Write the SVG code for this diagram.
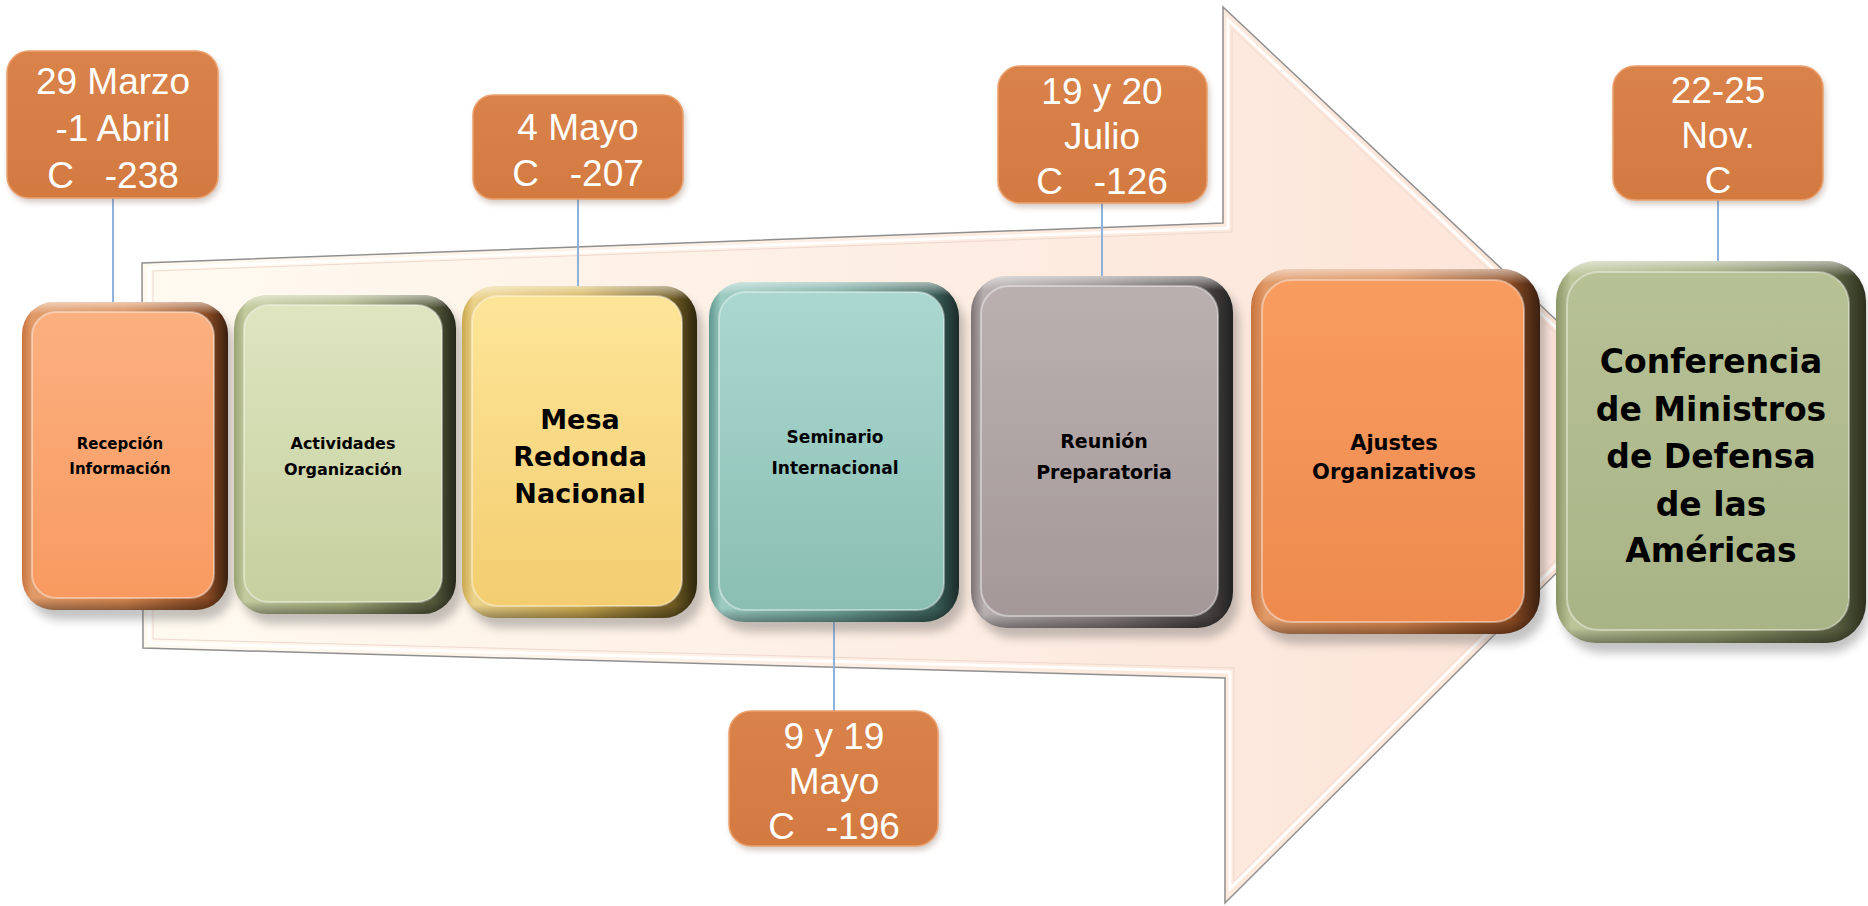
<svg xmlns="http://www.w3.org/2000/svg" width="1868" height="906" viewBox="0 0 1868 906">
<defs>
<style>
.lbl{font-family:"Liberation Sans",Arial,sans-serif;font-size:37px;fill:#fff;text-anchor:middle;white-space:pre}
.nt{font-family:"DejaVu Sans","Liberation Sans",sans-serif;font-weight:bold;fill:#000;text-anchor:middle}
.con{stroke:#8DB3DC;stroke-width:2;fill:none}
.lbox{fill:url(#lboxG);stroke:#EBA06C;stroke-width:1.5}
.lsh{fill:#7a5a48;opacity:.35;filter:url(#blur3)}
.nsh{fill:#555;opacity:.35;filter:url(#blur5)}
.hl{fill:none;stroke:#fff;stroke-opacity:.4;stroke-width:2}
.top{fill:url(#topHL)}
</style>
<filter id="blur3" x="-10%" y="-10%" width="120%" height="120%"><feGaussianBlur stdDeviation="3"/></filter>
<filter id="blur5" x="-10%" y="-10%" width="120%" height="120%"><feGaussianBlur stdDeviation="5"/></filter>
<linearGradient id="arrowG" x1="0" y1="0" x2="1" y2="0">
<stop offset="0" stop-color="#FFFAF0"/><stop offset="0.6" stop-color="#FDEBE0"/><stop offset="1" stop-color="#FCE2D6"/>
</linearGradient>
<linearGradient id="topHL" x1="0" y1="0" x2="0" y2="1">
<stop offset="0" stop-color="#fff" stop-opacity=".55"/><stop offset="0.04" stop-color="#fff" stop-opacity="0"/><stop offset="0.96" stop-color="#000" stop-opacity="0"/><stop offset="1" stop-color="#000" stop-opacity=".35"/>
</linearGradient>
<linearGradient id="lboxG" x1="0" y1="0" x2="0" y2="1">
<stop offset="0" stop-color="#D98249"/><stop offset="1" stop-color="#D37A41"/>
</linearGradient>
<linearGradient id="rimO" x1="0" y1="0" x2="1" y2="0">
<stop offset="0" stop-color="#C8743F"/><stop offset="0.05" stop-color="#E09A68"/><stop offset="0.5" stop-color="#D98850"/><stop offset="0.9" stop-color="#8A4A22"/><stop offset="1" stop-color="#3A2010"/>
</linearGradient>
<linearGradient id="faceO" x1="0" y1="0" x2="0" y2="1"><stop offset="0" stop-color="#FBB080"/><stop offset="1" stop-color="#F89A60"/></linearGradient>
<linearGradient id="faceO2" x1="0" y1="0" x2="0" y2="1"><stop offset="0" stop-color="#F89C60"/><stop offset="1" stop-color="#EE8A4E"/></linearGradient>
<linearGradient id="rimG" x1="0" y1="0" x2="1" y2="0">
<stop offset="0" stop-color="#9AA374"/><stop offset="0.05" stop-color="#C2CA9E"/><stop offset="0.5" stop-color="#A9B280"/><stop offset="0.9" stop-color="#55593A"/><stop offset="1" stop-color="#25271A"/>
</linearGradient>
<linearGradient id="faceG" x1="0" y1="0" x2="0" y2="1"><stop offset="0" stop-color="#DEE5C0"/><stop offset="1" stop-color="#C6CF9E"/></linearGradient>
<linearGradient id="rimY" x1="0" y1="0" x2="1" y2="0">
<stop offset="0" stop-color="#C9A84E"/><stop offset="0.05" stop-color="#EBD28A"/><stop offset="0.5" stop-color="#D6B254"/><stop offset="0.9" stop-color="#6E5A22"/><stop offset="1" stop-color="#2E260E"/>
</linearGradient>
<linearGradient id="faceY" x1="0" y1="0" x2="0" y2="1"><stop offset="0" stop-color="#FDE598"/><stop offset="1" stop-color="#F3CD70"/></linearGradient>
<linearGradient id="rimT" x1="0" y1="0" x2="1" y2="0">
<stop offset="0" stop-color="#5E968D"/><stop offset="0.05" stop-color="#9CCBC2"/><stop offset="0.5" stop-color="#72A89E"/><stop offset="0.9" stop-color="#3B5F59"/><stop offset="1" stop-color="#1B2C29"/>
</linearGradient>
<linearGradient id="faceT" x1="0" y1="0" x2="0" y2="1"><stop offset="0" stop-color="#AAD8D0"/><stop offset="1" stop-color="#8BBEB3"/></linearGradient>
<linearGradient id="rimS" x1="0" y1="0" x2="1" y2="0">
<stop offset="0" stop-color="#7C7474"/><stop offset="0.05" stop-color="#B8B0B0"/><stop offset="0.5" stop-color="#8E8484"/><stop offset="0.9" stop-color="#4A4444"/><stop offset="1" stop-color="#222"/>
</linearGradient>
<linearGradient id="faceS" x1="0" y1="0" x2="0" y2="1"><stop offset="0" stop-color="#BBB0B0"/><stop offset="1" stop-color="#A49898"/></linearGradient>
<linearGradient id="rimV" x1="0" y1="0" x2="1" y2="0">
<stop offset="0" stop-color="#8C9566"/><stop offset="0.05" stop-color="#BCC59A"/><stop offset="0.5" stop-color="#99A474"/><stop offset="0.9" stop-color="#5A6040"/><stop offset="1" stop-color="#2C301E"/>
</linearGradient>
<linearGradient id="faceV" x1="0" y1="0" x2="0" y2="1"><stop offset="0" stop-color="#B7C196"/><stop offset="1" stop-color="#A8B486"/></linearGradient>
</defs>
<rect width="1868" height="906" fill="#fff"/>

<g id="arrow">
<polygon points="142,263 1223,223 1223,7 1687,443 1225,903 1225,678 143,648" fill="url(#arrowG)" stroke="#8f8f8f" stroke-width="1.5" stroke-linejoin="miter"/>
<polygon points="149,268 1228,228 1228,20 1679,443 1230,889 1230,672 149,643" fill="none" stroke="#fff" stroke-width="3" stroke-opacity=".9"/>
<polygon points="153,271 1232,232 1232,29 1673,443 1234,881 1234,668 153,639" fill="none" stroke="#EFD8CE" stroke-width="1"/>
</g>

<g id="connectors">
<line class="con" x1="113" y1="198" x2="113" y2="302"/>
<line class="con" x1="578" y1="199" x2="578" y2="286"/>
<line class="con" x1="1102" y1="203" x2="1102" y2="276"/>
<line class="con" x1="1718" y1="200" x2="1718" y2="261"/>
<line class="con" x1="834" y1="622" x2="834" y2="711"/>
</g>

<g id="n1">
<rect class="nsh" x="28" y="312" width="206" height="308" rx="32"/>
<rect x="22" y="302" width="206" height="308" rx="32" fill="url(#rimO)"/>
<rect class="top" x="22" y="302" width="206" height="308" rx="32"/>
<rect x="32" y="312" width="182" height="286" rx="24" fill="url(#faceO)"/>
<rect class="hl" x="32" y="312" width="182" height="286" rx="24"/>
<text class="nt" font-size="15"><tspan x="120" y="449">Recepción</tspan><tspan x="120" y="474">Información</tspan></text>
</g>

<g id="n2">
<rect class="nsh" x="240" y="305" width="222" height="319" rx="33"/>
<rect x="234" y="295" width="222" height="319" rx="33" fill="url(#rimG)"/>
<rect class="top" x="234" y="295" width="222" height="319" rx="33"/>
<rect x="244" y="305" width="198" height="297" rx="25" fill="url(#faceG)"/>
<rect class="hl" x="244" y="305" width="198" height="297" rx="25"/>
<text class="nt" font-size="16"><tspan x="343" y="449">Actividades</tspan><tspan x="343" y="475">Organización</tspan></text>
</g>

<g id="n3">
<rect class="nsh" x="468" y="296" width="235" height="332" rx="34"/>
<rect x="462" y="286" width="235" height="332" rx="34" fill="url(#rimY)"/>
<rect class="top" x="462" y="286" width="235" height="332" rx="34"/>
<rect x="472" y="296" width="210" height="310" rx="26" fill="url(#faceY)"/>
<rect class="hl" x="472" y="296" width="210" height="310" rx="26"/>
<text class="nt" font-size="27"><tspan x="580" y="429">Mesa</tspan><tspan x="580" y="466">Redonda</tspan><tspan x="580" y="503">Nacional</tspan></text>
</g>

<g id="n4">
<rect class="nsh" x="715" y="292" width="250" height="340" rx="35"/>
<rect x="709" y="282" width="250" height="340" rx="35" fill="url(#rimT)"/>
<rect class="top" x="709" y="282" width="250" height="340" rx="35"/>
<rect x="719" y="292" width="225" height="318" rx="27" fill="url(#faceT)"/>
<rect class="hl" x="719" y="292" width="225" height="318" rx="27"/>
<text class="nt" font-size="17"><tspan x="835" y="443">Seminario</tspan><tspan x="835" y="474">Internacional</tspan></text>
</g>

<g id="n5">
<rect class="nsh" x="977" y="286" width="262" height="352" rx="36"/>
<rect x="971" y="276" width="262" height="352" rx="36" fill="url(#rimS)"/>
<rect class="top" x="971" y="276" width="262" height="352" rx="36"/>
<rect x="981" y="286" width="237" height="330" rx="28" fill="url(#faceS)"/>
<rect class="hl" x="981" y="286" width="237" height="330" rx="28"/>
<text class="nt" font-size="19"><tspan x="1104" y="448">Reunión</tspan><tspan x="1104" y="479">Preparatoria</tspan></text>
</g>

<g id="n6">
<rect class="nsh" x="1257" y="279" width="289" height="365" rx="38"/>
<rect x="1251" y="269" width="289" height="365" rx="38" fill="url(#rimO)"/>
<rect class="top" x="1251" y="269" width="289" height="365" rx="38"/>
<rect x="1262" y="280" width="262" height="342" rx="30" fill="url(#faceO2)"/>
<rect class="hl" x="1262" y="280" width="262" height="342" rx="30"/>
<text class="nt" font-size="21"><tspan x="1394" y="450">Ajustes</tspan><tspan x="1394" y="479">Organizativos</tspan></text>
</g>

<g id="n7">
<rect class="nsh" x="1562" y="271" width="306" height="382" rx="40"/>
<rect x="1556" y="261" width="310" height="382" rx="40" fill="url(#rimV)"/>
<rect class="top" x="1556" y="261" width="310" height="382" rx="40"/>
<rect x="1567" y="272" width="282" height="358" rx="32" fill="url(#faceV)"/>
<rect class="hl" x="1567" y="272" width="282" height="358" rx="32"/>
<text class="nt" font-size="33"><tspan x="1711" y="373">Conferencia</tspan><tspan x="1711" y="421">de Ministros</tspan><tspan x="1711" y="468">de Defensa</tspan><tspan x="1711" y="516">de las</tspan><tspan x="1711" y="562">Américas</tspan></text>
</g>

<g id="l1">
<rect class="lsh" x="9" y="55" width="211" height="147" rx="22"/>
<rect class="lbox" x="7" y="51" width="211" height="147" rx="22"/>
<text class="lbl"><tspan x="113" y="94">29 Marzo</tspan><tspan x="113" y="141">-1 Abril</tspan><tspan x="113" y="188">C   -238</tspan></text>
</g>

<g id="l2">
<rect class="lsh" x="475" y="99" width="210" height="104" rx="20"/>
<rect class="lbox" x="473" y="95" width="210" height="104" rx="20"/>
<text class="lbl"><tspan x="578" y="140">4 Mayo</tspan><tspan x="578" y="186">C   -207</tspan></text>
</g>

<g id="l3">
<rect class="lsh" x="1000" y="70" width="209" height="137" rx="22"/>
<rect class="lbox" x="998" y="66" width="209" height="137" rx="22"/>
<text class="lbl"><tspan x="1102" y="104">19 y 20</tspan><tspan x="1102" y="149">Julio</tspan><tspan x="1102" y="194">C   -126</tspan></text>
</g>

<g id="l4">
<rect class="lsh" x="1615" y="70" width="210" height="134" rx="22"/>
<rect class="lbox" x="1613" y="66" width="210" height="134" rx="22"/>
<text class="lbl"><tspan x="1718" y="103">22-25</tspan><tspan x="1718" y="148">Nov.</tspan><tspan x="1718" y="193">C</tspan></text>
</g>

<g id="l5">
<rect class="lsh" x="731" y="715" width="209" height="135" rx="22"/>
<rect class="lbox" x="729" y="711" width="209" height="135" rx="22"/>
<text class="lbl"><tspan x="834" y="749">9 y 19</tspan><tspan x="834" y="794">Mayo</tspan><tspan x="834" y="839">C   -196</tspan></text>
</g>
</svg>
